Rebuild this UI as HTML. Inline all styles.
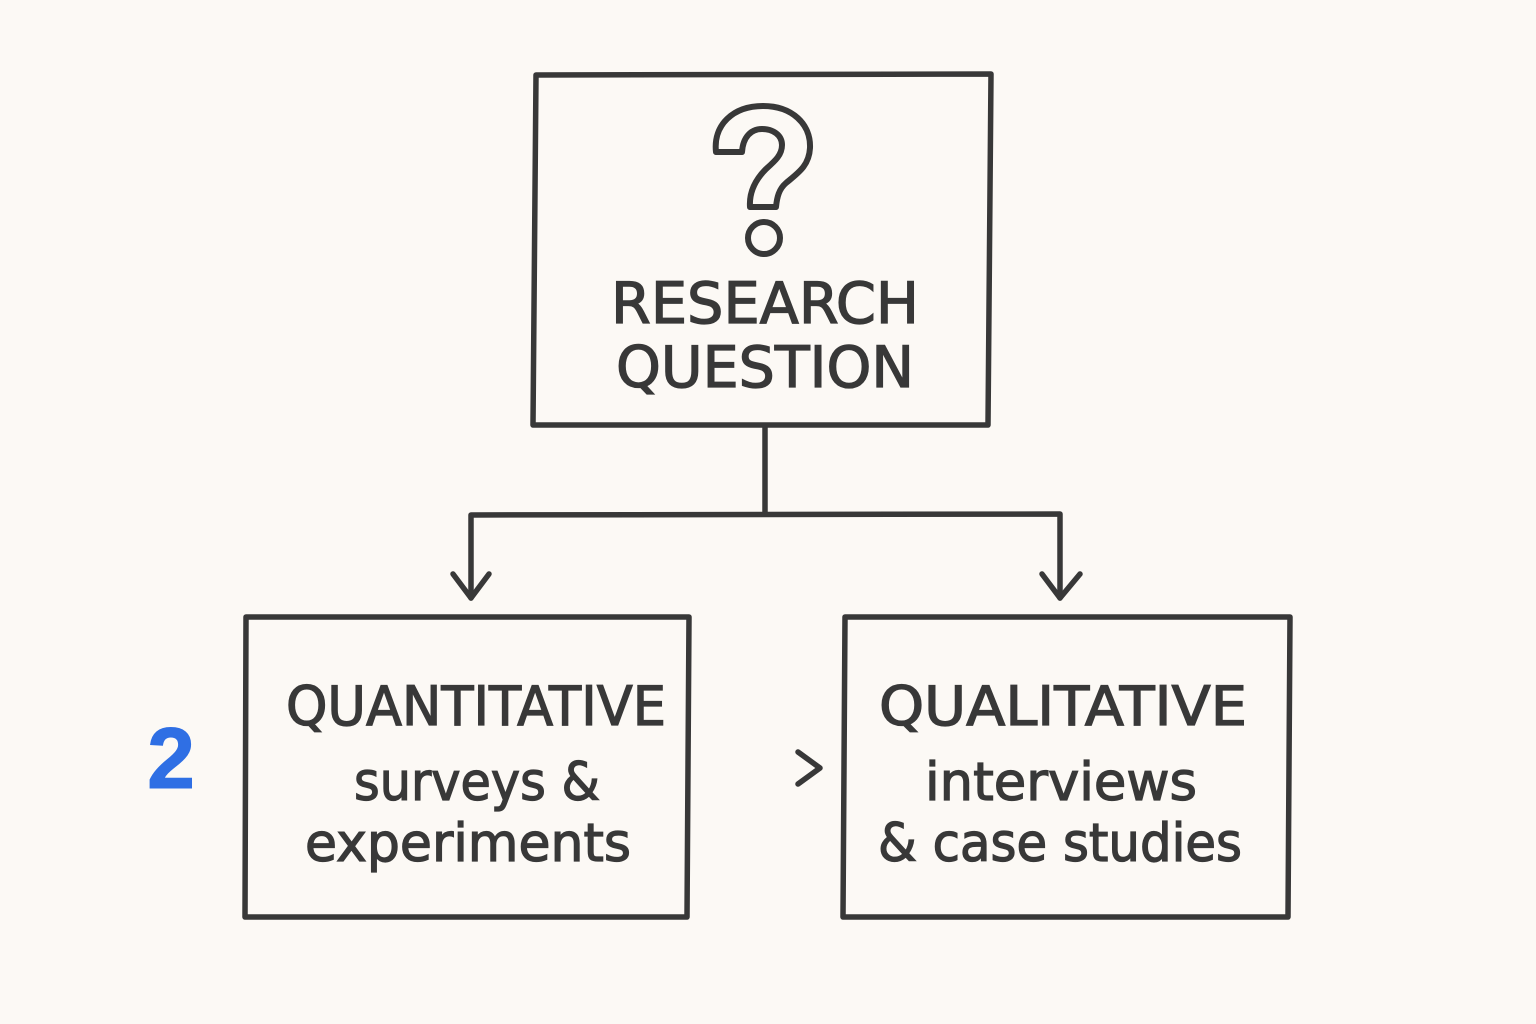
<!DOCTYPE html>
<html>
<head>
<meta charset="utf-8">
<style>
html,body{margin:0;padding:0;background:#fcf9f5;}
svg{display:block;}
text{font-family:"DejaVu Sans","Liberation Sans",sans-serif;fill:#383838;stroke:#383838;stroke-width:1.3;}
</style>
</head>
<body>
<svg width="1536" height="1024" viewBox="0 0 1536 1024" xmlns="http://www.w3.org/2000/svg">
<rect width="1536" height="1024" fill="#fcf9f5"/>
<g fill="none" stroke="#383838" stroke-width="5.5" stroke-linecap="round" stroke-linejoin="round">
<path d="M536 75 L991 74 L988 425 L533 425 Z"/>
<path d="M765 426 L765 513"/>
<path d="M471 598 L471 515 L1060 514 L1060 598"/>
<path d="M453 574 L471 598 L489 574"/>
<path d="M1042 574 L1060 598 L1080 574"/>
<path d="M246 617 L689 617 L687 917 L245 917 Z"/>
<path d="M845 617 L1290 617 L1288 917 L843 917 Z"/>
<path d="M798 752 L820 768 L798 784"/>
<path stroke-width="6" d="M716 152 C713 125 733 106 763 106 C792 106 811 124 810 148 C809 166 798 173 786 183 C779 189 777 197 776 207 L750 207 C749 192 755 180 766 169 C775 161 782 155 782 145 C782 135 773 129 762 129 C751 129 743 137 742 152 Z"/>
<circle cx="764" cy="238" r="16" stroke-width="6"/>
</g>
<text x="765" y="323" font-size="57" text-anchor="middle" textLength="308" lengthAdjust="spacingAndGlyphs">RESEARCH</text>
<text x="765" y="387" font-size="57" text-anchor="middle" textLength="298" lengthAdjust="spacingAndGlyphs">QUESTION</text>
<text x="476" y="725" font-size="54" text-anchor="middle" textLength="380" lengthAdjust="spacingAndGlyphs">QUANTITATIVE</text>
<text x="477" y="800" font-size="53" text-anchor="middle" textLength="246" lengthAdjust="spacingAndGlyphs">surveys &amp;</text>
<text x="468" y="861" font-size="53" text-anchor="middle" textLength="326" lengthAdjust="spacingAndGlyphs">experiments</text>
<text x="1063" y="725" font-size="54" text-anchor="middle" textLength="368" lengthAdjust="spacingAndGlyphs">QUALITATIVE</text>
<text x="1061" y="800" font-size="53" text-anchor="middle" textLength="272" lengthAdjust="spacingAndGlyphs">interviews</text>
<text x="1060" y="861" font-size="53" text-anchor="middle" textLength="364" lengthAdjust="spacingAndGlyphs">&amp; case studies</text>
<text x="171" y="788" font-size="86" font-weight="bold" text-anchor="middle" style="fill:#2f6fe4;stroke:#2f6fe4;stroke-width:1;font-family:'Liberation Sans',sans-serif">2</text>
</svg>
</body>
</html>
